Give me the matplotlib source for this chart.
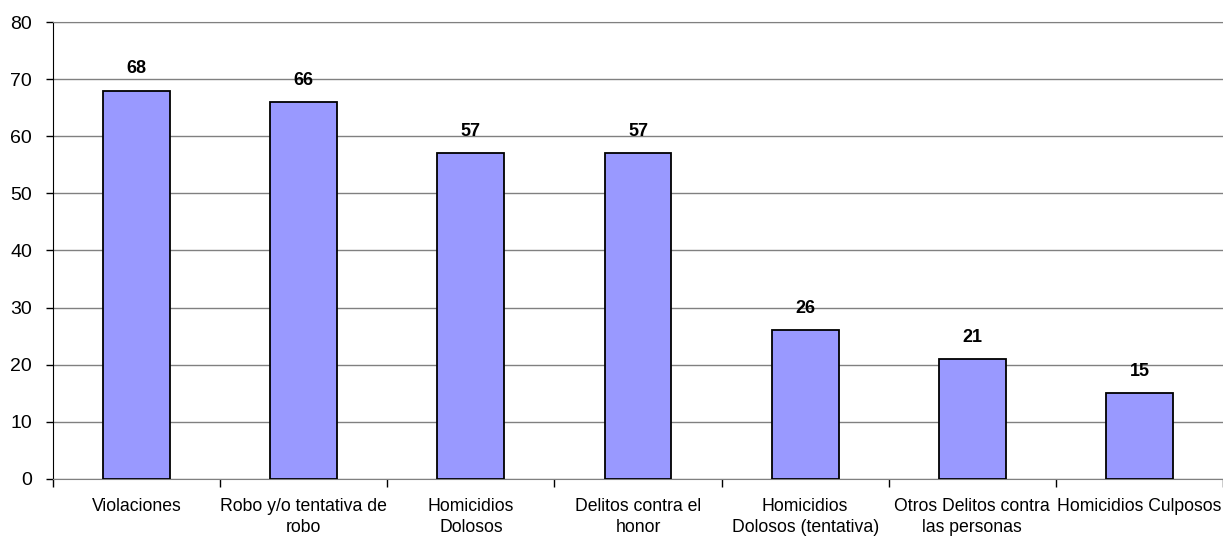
import matplotlib.pyplot as plt
import numpy as np

# Data
CATEGORIES = [
    "Violaciones",
    "Robo y/o tentativa de\nrobo",
    "Homicidios\nDolosos",
    "Delitos contra el\nhonor",
    "Homicidios\nDolosos (tentativa)",
    "Otros Delitos contra\nlas personas",
    "Homicidios Culposos",
]
VALUES = [68, 66, 57, 57, 26, 21, 15]
Y_TICKS = [0, 10, 20, 30, 40, 50, 60, 70, 80]


def main() -> None:
    plt.rcParams["font.family"] = ["Liberation Sans", "DejaVu Sans"]

    fig = plt.figure(figsize=(12.23, 5.38), dpi=100)
    ax = fig.add_axes((0.0433, 0.1097, 0.9567, 0.8494))

    x = np.arange(len(CATEGORIES))
    bars = ax.bar(x, VALUES, width=0.40, color="#9999ff",
                  edgecolor="black", linewidth=1.3, zorder=3)

    for bar, value in zip(bars, VALUES):
        ax.text(bar.get_x() + bar.get_width() / 2, value + 3.0, str(value),
                ha="center", va="baseline", fontsize=13, fontweight="bold")

    ax.set_xlim(-0.5, len(CATEGORIES) - 0.5)
    ax.set_ylim(0, 80)
    ax.set_yticks(Y_TICKS)
    ax.tick_params(axis="y", labelsize=14, length=5, width=1, pad=10,
                   direction="out")
    ax.yaxis.grid(True, color="#808080", linewidth=1, zorder=0)

    # category labels centered, ticks at category boundaries
    ax.set_xticks(x)
    ax.set_xticklabels(CATEGORIES, fontsize=12.7, linespacing=1.25)
    ax.tick_params(axis="x", which="major", length=0, pad=14)
    ax.set_xticks(np.arange(len(CATEGORIES) + 1) - 0.5, minor=True)
    ax.tick_params(axis="x", which="minor", length=6, width=1, direction="out")

    ax.spines["right"].set_visible(False)
    ax.spines["top"].set_color("#808080")
    ax.spines["bottom"].set_color("#808080")
    ax.spines["left"].set_color("black")

    fig.savefig("out.png", dpi=100)


if __name__ == "__main__":
    main()
